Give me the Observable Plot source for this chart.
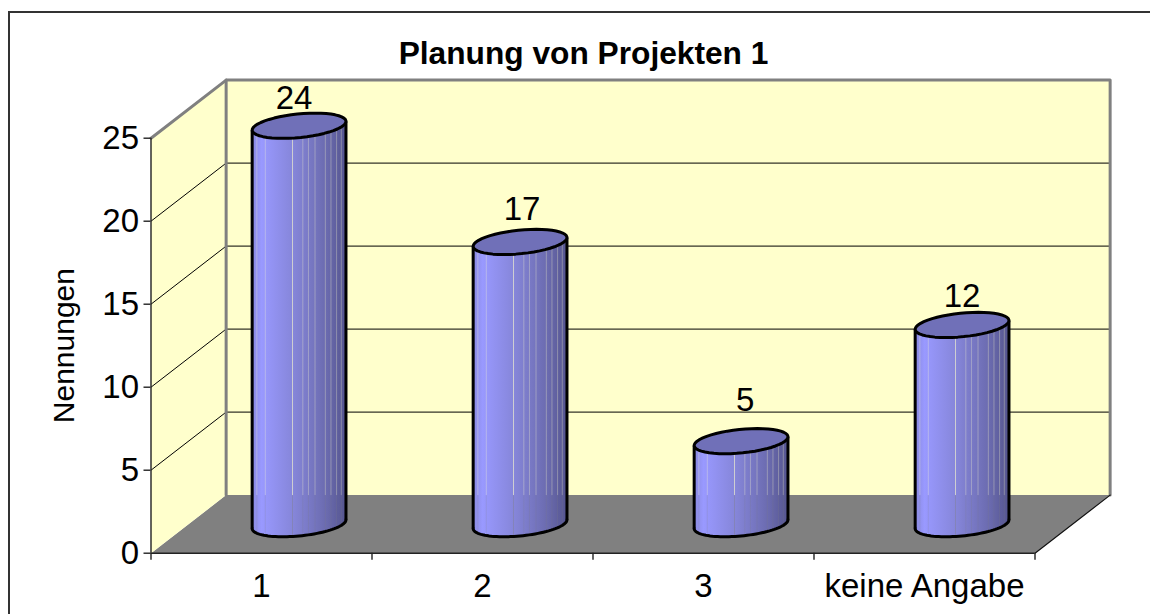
<!DOCTYPE html>
<html><head><meta charset="utf-8">
<script src="https://cdn.jsdelivr.net/npm/d3@7"></script>
<script src="https://cdn.jsdelivr.net/npm/@observablehq/plot@0.6"></script>
<style>
html,body{margin:0;padding:0;background:#fff;overflow:hidden}
#border{position:absolute;left:8px;top:11px;width:1142px;height:603px;border-left:2px solid #333;border-top:2px solid #333;box-sizing:border-box}
#chart{position:absolute;left:0;top:0}
svg{display:block}
</style></head><body>
<div id="chart"></div><div id="border"></div>
<script>
const titleText = "Planung von Projekten 1";
const yLabel = "Nennungen";
const categories = ["1","2","3","keine Angabe"];
const values = [24,17,5,12];
const yTicks = [0,5,10,15,20,25];

const font = "Liberation Sans, Arial, sans-serif";
// depth of the 3D box, in scale units
const DX = 0.34, DY = 3.5;
const wall = "#ffffcc", floor = "#808080", edge = "#808080";
const SW = 3;
const line = (pts, o) => Plot.line(pts, {x:"x", y:"y", ...o});
const P = (x,y)=>({x,y});

// cylinder geometry in scale units: a sheared circle sitting mid-depth
const RX = 0.199, VF = 0.217;
const ellipse = (cx, cy, a) => P(cx + RX*Math.cos(a) + VF*DX*Math.sin(a), cy + VF*DY*Math.sin(a));
const extreme = Math.atan2(VF*DX, RX);
const arc = (cx, cy, a0, a1) => d3.range(49).map(i => ellipse(cx, cy, a0 + (a1-a0)*i/48));
const stripes = [.05,.14,.43,.54,.6,.67,.78,.84,.9,.95];
const halfW = Math.hypot(RX, VF*DX);

const cyl = [];
values.forEach((v,i) => {
  const cx = i + .5 + DX/2, cy0 = DY/2, cy1 = v + DY/2;
  const bottom = arc(cx, cy0, extreme, extreme - Math.PI);
  const body = [...bottom, ...arc(cx, cy1, extreme - Math.PI, extreme)];
  cyl.push(line(body, {fill:"url(#cylGrad)", stroke:"none"}));
  // translucent seams of the gradient bands
  stripes.forEach(s => {
    const X = cx - halfW + 2*halfW*s;
    const a = -Math.acos(Math.min(1,(X-cx)/halfW)) + extreme;
    const yb = ellipse(cx, cy0, a).y, yt = ellipse(cx, cy1, a).y;
    const strong = s === .43 ? .6 : .3;
    if (yb < DY) {
      cyl.push(Plot.link([{}], {x1:()=>X,x2:()=>X,y1:()=>Math.max(DY,yb),y2:()=>yt,stroke:wall,strokeOpacity:strong,strokeWidth:1}));
      cyl.push(Plot.link([{}], {x1:()=>X,x2:()=>X,y1:()=>yb,y2:()=>DY,stroke:floor,strokeOpacity:strong*.6,strokeWidth:1}));
    } else {
      cyl.push(Plot.link([{}], {x1:()=>X,x2:()=>X,y1:()=>yb,y2:()=>yt,stroke:wall,strokeOpacity:strong,strokeWidth:1}));
    }
  });
  cyl.push(line(bottom, {stroke:"#000", strokeWidth:SW, fill:"none"}));
  cyl.push(Plot.link([{}], {x1:()=>bottom[0].x,x2:()=>bottom[0].x,y1:()=>bottom[0].y,y2:()=>cy1+bottom[0].y-cy0,stroke:"#000",strokeWidth:SW}));
  cyl.push(Plot.link([{}], {x1:()=>bottom[48].x,x2:()=>bottom[48].x,y1:()=>bottom[48].y,y2:()=>cy1+bottom[48].y-cy0,stroke:"#000",strokeWidth:SW}));
  cyl.push(line([...arc(cx, cy1, 0, 2*Math.PI)], {fill:"#7070b8", stroke:"#000", strokeWidth:SW}));
});

const labelDx = [-5, 2, 4, 0];
const labelDy = [0, -6, -14, -2];
const labels = values.map((v,i) => Plot.text([v], {
  x: () => i + .5 + DX/2, y: () => v + DY/2,
  text: d => String(d), dx: labelDx[i], dy: labelDy[i] - 27, fontSize: 33, fontFamily: font, fill:"#000"
}));

const defs = () => {
  const d = d3.create("svg:defs");
  const g = d.append("linearGradient").attr("id","cylGrad").attr("x1",0).attr("x2",1).attr("y1",0).attr("y2",0);
  [[0,"#8a8ae0"],[.1,"#9999ff"],[.45,"#8585d8"],[.8,"#6a6aae"],[1,"#55558f"]]
    .forEach(([o,c]) => g.append("stop").attr("offset",o).attr("stop-color",c));
  return d.node();
};

const chart = Plot.plot({
  width:1150, height:614,
  marginLeft:150.5, marginRight:115.5, marginTop:137.7, marginBottom:61.3,
  style:{background:"#fff", fontFamily:font, overflow:"visible"},
  x:{type:"linear", domain:[0,4]},
  y:{type:"linear", domain:[0,25]},
  marks:[
    defs,
    // floor, back wall, left wall
    line([P(0,0),P(4,0),P(4+DX,DY),P(DX,DY)], {fill:floor, stroke:"none"}),
    line([P(DX,DY),P(4+DX,DY),P(4+DX,25+DY),P(DX,25+DY)], {fill:wall, stroke:"none"}),
    line([P(0,0),P(DX,DY),P(DX,25+DY),P(0,25)], {fill:wall, stroke:"none"}),
    // gridlines on both walls
    Plot.link(yTicks.slice(1,-1), {x1:()=>0,y1:d=>d,x2:()=>DX,y2:d=>d+DY,stroke:"#000",strokeWidth:1}),
    Plot.link(yTicks.slice(1,-1), {x1:()=>DX,y1:d=>d+DY,x2:()=>4+DX,y2:d=>d+DY,stroke:"#000",strokeWidth:1}),
    // wall edges
    line([P(0,25),P(DX,25+DY),P(4+DX,25+DY),P(4+DX,DY)], {stroke:edge, strokeWidth:3, fill:"none"}),
    line([P(DX,25+DY),P(DX,DY)], {stroke:edge, strokeWidth:3, fill:"none"}),
    line([P(4,0),P(4+DX,DY)], {stroke:"#111", strokeWidth:1.2, fill:"none"}),
    // front axes
    Plot.ruleX([0], {y1:0, y2:25, stroke:"#222", strokeWidth:1.4}),
    Plot.ruleY([0], {x1:0, x2:4, stroke:"#222", strokeWidth:1.4}),
    Plot.axisY({ticks:yTicks, tickSize:7, tickPadding:5, fontSize:33, label:null, stroke:"#222", strokeWidth:1.4, fill:"#000"}),
    Plot.axisX({ticks:[0,1,2,3,4], tickSize:7, tickFormat:()=>"", label:null, stroke:"#222", strokeWidth:1.4}),
    ...cyl,
    ...labels,
    Plot.text(categories, {x:(d,i)=>i+.5, y:()=>0, dy:33, fontSize:33, fontFamily:font, fill:"#000"}),
    Plot.text([yLabel], {frameAnchor:"left", rotate:-90, dx:-87, dy:77.5, fontSize:30, fontFamily:font, fill:"#000"}),
    Plot.text([titleText], {frameAnchor:"top", dx:-9.5, dy:-84, fontSize:31.7, fontWeight:"bold", fontFamily:font, fill:"#000", lineAnchor:"middle"})
  ]
});
document.getElementById("chart").append(chart);
</script></body></html>
